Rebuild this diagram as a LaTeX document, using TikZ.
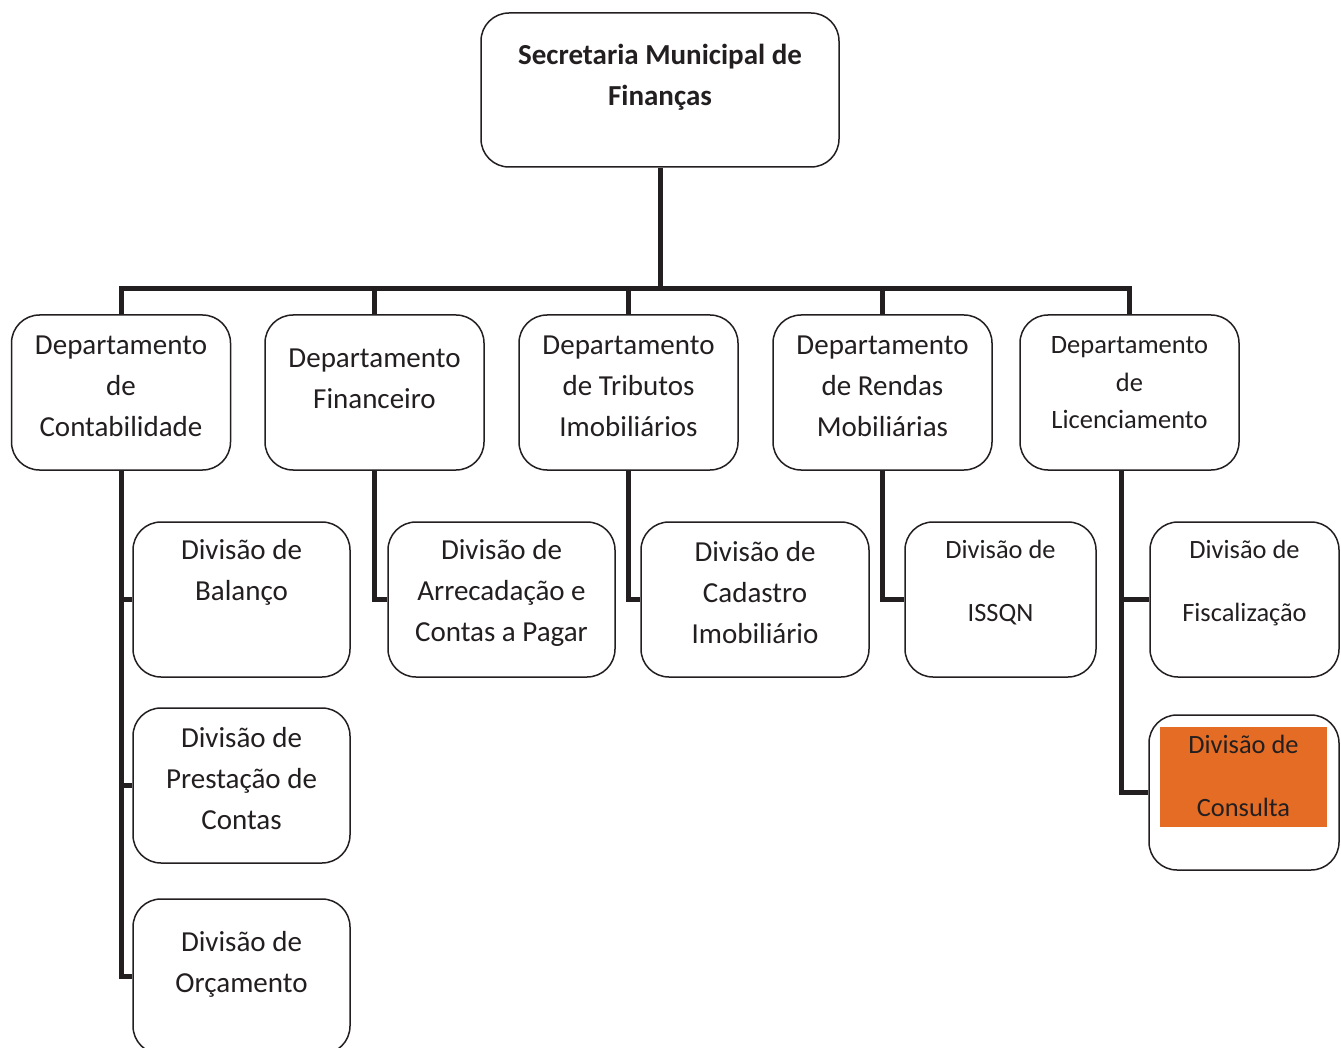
\documentclass[tikz,border=0pt]{standalone}
\usepackage{fontspec}
\setmainfont{Carlito}
\definecolor{ink}{HTML}{231F20}
\definecolor{consultafill}{HTML}{E46C25}

\begin{document}
\begin{tikzpicture}[
            x=1pt, y=-1pt,
            line join=miter,
            box/.style={draw=ink, line width=1.5pt, rounded corners=28pt, fill=white, inner sep=0pt},
            dept box/.style={box, minimum width=219pt, minimum height=155pt},
            div box/.style={box, minimum height=155pt},
            box text/.style={align=center, text=ink, inner sep=0pt, font=\fontsize{29}{41}\selectfont},
            small text/.style={box text, font=\fontsize{26.4}{63}\selectfont},
            link/.style={draw=ink, line width=5pt},
        ]
        \clip (0,0) rectangle (1341,1048);
        \fill[white] (0,0) rectangle (1341,1048);

        % Secretaria at the top.
        \node[box, minimum width=358pt, minimum height=154pt] (secr) at (660,90) {};
        \node[box text, font=\fontsize{29}{41}\selectfont\bfseries] (secr-txt) at (660,77) {Secretaria Municipal de\\Finanças};

        % The five departments.
        \node[dept box] (contab) at (121,392.5) {};
        \node[dept box] (financ) at (374.5,392.5) {};
        \node[dept box] (tribut) at (628.5,392.5) {};
        \node[dept box] (rendas) at (882.5,392.5) {};
        \node[dept box] (licen) at (1129.5,392.5) {};
        \node[box text] (contab-txt) at (121,386) {Departamento\\de\\Contabilidade};
        \node[box text] (financ-txt) at (374.5,379) {Departamento\\Financeiro};
        \node[box text] (tribut-txt) at (628.5,386) {Departamento\\de Tributos\\Imobiliários};
        \node[box text] (rendas-txt) at (882.5,386) {Departamento\\de Rendas\\Mobiliárias};
        \node[box text, font=\fontsize{26.5}{37.5}\selectfont] (licen-txt) at (1129.5,383) {Departamento\\de\\Licenciamento};

        % Divisions below each department.
        \node[div box, minimum width=217pt] (balanco) at (241.5,599.5) {};
        \node[div box, minimum width=217pt] (prest) at (241.5,785.5) {};
        \node[div box, minimum width=217pt] (orcam) at (241.5,976.5) {};
        \node[div box, minimum width=227pt] (arrec) at (501.5,599.5) {};
        \node[div box, minimum width=228pt] (cadastro) at (755,599.5) {};
        \node[div box, minimum width=191pt] (issqn) at (1000.5,599.5) {};
        \node[div box, minimum width=189pt] (fiscal) at (1244.5,599.5) {};
        \node[div box, minimum width=190pt] (consulta) at (1244,792.5) {};
        \fill[consultafill] (1160,727) rectangle (1327,827);

        \node[box text] (balanco-txt) at (241.5,572) {Divisão de\\Balanço};
        \node[box text] (prest-txt) at (241.5,779) {Divisão de\\Prestação de\\Contas};
        \node[box text] (orcam-txt) at (241.5,964) {Divisão de\\Orçamento};
        \node[box text] (arrec-txt) at (501.5,593) {Divisão de\\Arrecadação e\\Contas a Pagar};
        \node[box text] (cadastro-txt) at (755,593) {Divisão de\\Cadastro\\Imobiliário};
        \node[small text] (issqn-txt) at (1000.5,583) {Divisão de\\ISSQN};
        \node[small text] (fiscal-txt) at (1244.5,583) {Divisão de\\Fiscalização};
        \node[small text] (consulta-txt) at (1243.5,776) {Divisão de\\Consulta};

        % Bus from the Secretaria to the departments.
        \coordinate (bus) at (0,289);
        \draw[link] (secr.south) -- (secr.south |- bus);
        \draw[link] (contab.north) -- (contab.north |- bus) -- (licen.north |- bus) -- (licen.north);
        \foreach \dep in {financ,tribut,rendas}
            \draw[link] (\dep.north |- bus) -- (\dep.north);

        % Department to division links.
        \draw[link] (contab.south) |- (orcam.west);
        \draw[link] (contab.south |- balanco.west) -- (balanco.west);
        \draw[link] (contab.south |- prest.west) -- (prest.west);
        \draw[link] (financ.south) |- (arrec.west);
        \draw[link] (tribut.south) |- (cadastro.west);
        \draw[link] (rendas.south) |- (issqn.west);
        \coordinate (licen-drop) at ([xshift=-8.5pt]licen.south);
        \draw[link] (licen-drop) |- (consulta.west);
        \draw[link] (licen-drop |- fiscal.west) -- (fiscal.west);
        \end{tikzpicture}
\end{document}
